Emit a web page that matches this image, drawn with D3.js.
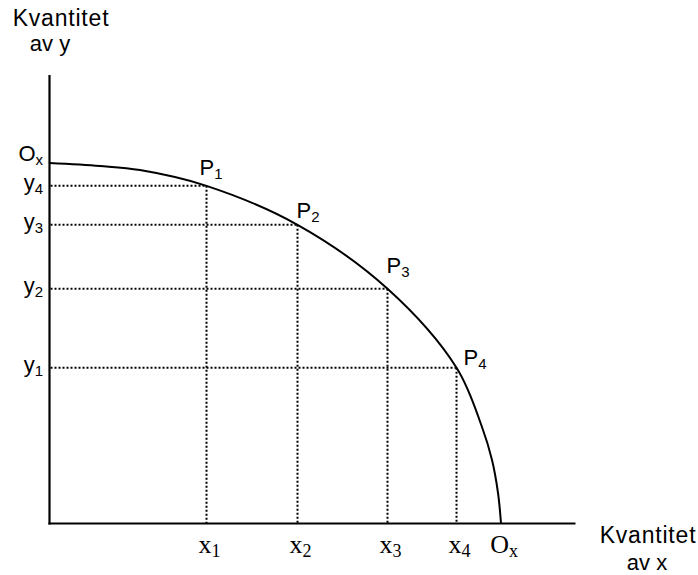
<!DOCTYPE html>
<html><head><meta charset="utf-8">
<script src="https://cdn.jsdelivr.net/npm/d3@7"></script>
<style>body{margin:0;background:#fff}</style>
</head><body>
<svg id="c" width="698" height="575"></svg>
<script>
// ---- data (abstract quantity units, 0..100) ----
const curveX = [0, 9.6, 17.2, 29.85, 47.15, 64.26, 77.38, 82.22, 84.13, 85.27, 85.84];
const curveY = [80.37, 79.7, 78.8, 75.28, 66.59, 52.34, 34.74, 21.52, 14.16, 6.8, 0];
const pointNames = ["P", "P", "P", "P"];
const pointSubs = ["1", "2", "3", "4"];
const pointX = [29.85, 47.15, 64.26, 77.38];
const pointY = [75.28, 66.59, 52.34, 34.74];
const xTickLabels = ["x", "x", "x", "x", "O"];
const xTickSubs = ["1", "2", "3", "4", "x"];
const xTickValues = [29.85, 47.15, 64.26, 77.38, 85.84];
const yTickLabels = ["y", "y", "y", "y", "O"];
const yTickSubs = ["1", "2", "3", "4", "x"];
const yTickValues = [34.74, 52.34, 66.59, 75.28, 80.37];
const axisTitleY = ["Kvantitet", "av y"];
const axisTitleX = ["Kvantitet", "av x"];

// ---- layout ----
const labelOffsets = [[-7, -11], [-1, -7], [-1, -16], [7, -3]];
const svg = d3.select("#c");
const x = d3.scaleLinear().domain([0, 100]).range([49.5, 575.5]);
const y = d3.scaleLinear().domain([0, 100]).range([523.5, 75]);
const sans = "Liberation Sans, Arial, Helvetica, sans-serif";
const serif = "Liberation Serif, Times New Roman, serif";

// dotted guides
const pts = pointX.map((v, i) => ({x: v, y: pointY[i], name: pointNames[i], sub: pointSubs[i], off: labelOffsets[i]}));
const guides = svg.append("g").attr("stroke", "#000").attr("stroke-width", 2).attr("stroke-dasharray", "2,2").attr("fill", "none");
pts.forEach(p => {
  guides.append("line").attr("x1", x(0) + 1).attr("x2", x(p.x)).attr("y1", y(p.y)).attr("y2", y(p.y));
  guides.append("line").attr("x1", x(p.x)).attr("x2", x(p.x)).attr("y1", y(p.y)).attr("y2", y(0));
});

// axes
const xAxis = d3.axisBottom(x).tickValues([]).tickSize(0);
const yAxis = d3.axisLeft(y).tickValues([]).tickSize(0);
svg.append("g").attr("transform", `translate(0,${y(0)})`).call(xAxis)
  .call(g => g.select(".domain").attr("stroke", "#000").attr("stroke-width", 2.2).attr("d", `M${x(0)-1},0H${x(100)}`));
svg.append("g").attr("transform", `translate(${x(0)},0)`).call(yAxis)
  .call(g => g.select(".domain").attr("stroke", "#000").attr("stroke-width", 2.2).attr("d", `M0,${y(100)}V${y(0)+1}`));

// frontier curve
const line = d3.line().x(d => x(d[0])).y(d => y(d[1])).curve(d3.curveCatmullRom.alpha(0.5));
svg.append("path").datum(curveX.map((v, i) => [v, curveY[i]]))
  .attr("d", line).attr("fill", "none").attr("stroke", "#000").attr("stroke-width", 2);

// point labels
pts.forEach(p => {
  const t = svg.append("text").attr("x", x(p.x) + p.off[0]).attr("y", y(p.y) + p.off[1])
    .attr("font-family", sans).attr("font-size", 22).attr("fill", "#000");
  t.append("tspan").text(p.name);
  t.append("tspan").attr("font-size", 15).attr("dy", 4).text(p.sub);
});

// y tick labels
yTickValues.forEach((v, i) => {
  const t = svg.append("text").attr("x", 43).attr("y", y(v) + (yTickLabels[i] === "O" ? -2 : 4))
    .attr("font-family", sans).attr("font-size", 22).attr("text-anchor", "end").attr("fill", "#000");
  t.append("tspan").text(yTickLabels[i]);
  t.append("tspan").attr("font-size", 15).attr("dy", 4).text(yTickSubs[i]);
});

// x tick labels
xTickValues.forEach((v, i) => {
  const t = svg.append("text").attr("x", x(v) + 3).attr("y", 553)
    .attr("font-family", serif).attr("font-size", 26).attr("text-anchor", "middle").attr("fill", "#000");
  t.append("tspan").text(xTickLabels[i]);
  t.append("tspan").attr("font-size", 18).attr("dy", 4).text(xTickSubs[i]);
});

// axis titles
svg.append("g").selectAll("text").data(axisTitleY).join("text")
  .attr("font-family", sans).attr("fill", "#000").attr("text-anchor", "middle")
  .attr("font-size", (d, i) => i === 0 ? 23 : 22)
  .attr("letter-spacing", (d, i) => i === 0 ? 0.8 : 0)
  .attr("x", (d, i) => i === 0 ? 61 : 50).attr("y", (d, i) => i === 0 ? 26 : 51).text(d => d);
svg.append("g").selectAll("text").data(axisTitleX).join("text")
  .attr("font-family", sans).attr("fill", "#000").attr("text-anchor", "middle")
  .attr("font-size", (d, i) => i === 0 ? 23 : 22)
  .attr("letter-spacing", (d, i) => i === 0 ? 0.8 : 0)
  .attr("x", (d, i) => i === 0 ? 648 : 647).attr("y", (d, i) => i === 0 ? 543 : 570).text(d => d);
</script>
</body></html>
